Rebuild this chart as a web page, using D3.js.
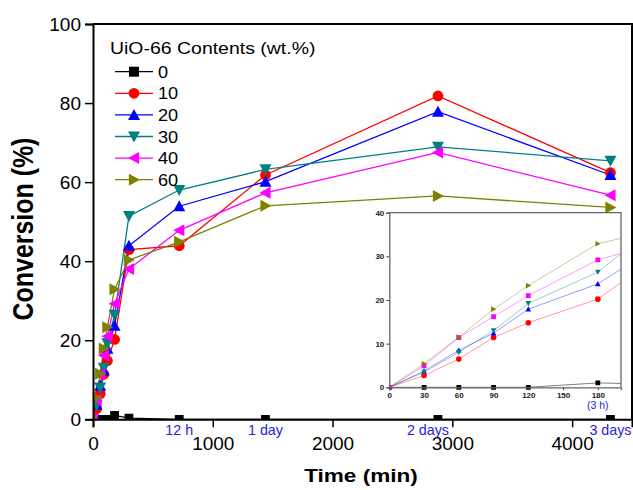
<!DOCTYPE html>
<html>
<head>
<meta charset="utf-8">
<script src="https://cdn.jsdelivr.net/npm/d3@7"></script>
<style>
  body { margin: 0; background: #fff; }
  text { font-family: Arial, "Liberation Sans", Helvetica, sans-serif; }
</style>
</head>
<body>
<svg id="chart" width="633" height="490"></svg>
<script>
// Reaction time (min) and conversion (%) for each UiO-66 loading
const times   = [0, 30, 60, 90, 120, 180, 300, 720, 1440, 2880, 4320];
const contents = ["0", "10", "20", "30", "40", "60"];
const conv0   = [0, 0, 0, 0, 0, 1.0, 0.3, 0, 0, 0, 0];
const conv10  = [0, 2.7, 6.5, 11.4, 14.8, 20.2, 42.9, 43.9, 61.8, 81.8, 62.4];
const conv20  = [0, 3.7, 8.5, 12.4, 17.9, 23.7, 43.9, 53.9, 60.1, 77.8, 61.8];
const conv30  = [0, 3.5, 8.0, 13.0, 19.2, 26.4, 51.4, 58.0, 63.2, 68.9, 65.4];
const conv40  = [0, 4.9, 11.4, 16.2, 21.0, 29.2, 38.0, 47.8, 57.3, 67.5, 56.7];
const conv60  = [0, 5.4, 11.5, 17.9, 23.3, 32.9, 40.3, 44.9, 54.0, 56.5, 53.6];

const xTicks = [0, 1000, 2000, 3000, 4000];
const yTicks = [0, 20, 40, 60, 80, 100];
const markTimes  = [720, 1440, 2880, 4320];
const markLabels = ["12 h", "1 day", "2 days", "3 days"];
const insetXTicks = [0, 30, 60, 90, 120, 150, 180];
const insetYTicks = [0, 10, 20, 30, 40];

const seriesValues = [conv0, conv10, conv20, conv30, conv40, conv60];
const colors = ["#000000", "#ff0000", "#0000ff", "#008080", "#ff00ff", "#808000"];
const shapes = ["square", "circle", "up", "down", "left", "right"];
const insetShapes = ["square", "circle", "up", "down", "square", "right"];

const series = contents.map((c, i) => ({
  name: c,
  color: colors[i],
  shape: shapes[i],
  insetShape: insetShapes[i],
  points: times.map((t, j) => ({ t, v: seriesValues[i][j] }))
}));

function markerPath(shape, r) {
  switch (shape) {
    case "square": return `M${-r},${-r}H${r}V${r}H${-r}Z`;
    case "circle": return `M${r},0A${r},${r} 0 1,1 ${-r},0A${r},${r} 0 1,1 ${r},0Z`;
    case "up":    return `M0,${-r}L${r},${r * 0.85}L${-r},${r * 0.85}Z`;
    case "down":  return `M0,${r}L${r},${-r * 0.85}L${-r},${-r * 0.85}Z`;
    case "left":  return `M${-r},0L${r * 0.85},${-r}L${r * 0.85},${r}Z`;
    case "right": return `M${r},0L${-r * 0.85},${-r}L${-r * 0.85},${r}Z`;
  }
}
function markerRadius(shape) {
  return shape === "square" ? 4.4 : (shape === "circle" ? 5.4 : 6);
}

const svg = d3.select("#chart");

// ---- main plot ----
const M = { left: 93, top: 24, right: 632, bottom: 419.3 };
const x = d3.scaleLinear().domain([0, 4500]).range([M.left, M.right]);
const y = d3.scaleLinear().domain([0, 100]).range([M.bottom, M.top]);

svg.append("clipPath").attr("id", "mainClip")
  .append("rect").attr("x", M.left).attr("y", M.top)
  .attr("width", M.right - M.left).attr("height", M.bottom - M.top);

const plot = svg.append("g").attr("clip-path", "url(#mainClip)");
const line = d3.line().x(d => x(d.t)).y(d => y(d.v));

series.forEach(s => {
  plot.append("path").datum(s.points)
    .attr("d", line).attr("fill", "none")
    .attr("stroke", s.color).attr("stroke-width", 1.3);
});
series.forEach(s => {
  plot.selectAll(null).data(s.points).enter().append("path")
    .attr("transform", d => `translate(${x(d.t)},${y(d.v)})`)
    .attr("d", markerPath(s.shape, markerRadius(s.shape)))
    .attr("fill", s.color);
});

// frame top / right
svg.append("path")
  .attr("d", `M${M.left},${M.top}H${M.right}V${M.bottom}`)
  .attr("fill", "none").attr("stroke", "#000").attr("stroke-width", 2);

// axes
const xAxis = svg.append("g").attr("transform", `translate(0,${M.bottom})`)
  .call(d3.axisBottom(x).tickValues(xTicks).tickSize(8).tickPadding(5).tickFormat(d3.format("d")));
const yAxis = svg.append("g").attr("transform", `translate(${M.left},0)`)
  .call(d3.axisLeft(y).tickValues(yTicks).tickSize(8).tickPadding(4));
[xAxis, yAxis].forEach(a => {
  a.select(".domain").attr("stroke-width", 2);
  a.selectAll(".tick line").attr("stroke-width", 1.5);
  a.selectAll(".tick text").attr("font-size", 19).attr("fill", "#000");
});
xAxis.selectAll(".tick text").attr("dy", "0.95em");
yAxis.selectAll(".tick text").attr("dy", "0.35em");

// time annotations
const markOffsets = [0, 0, -10, 0];
svg.selectAll(".mark").data(markTimes).enter().append("text")
  .attr("x", (d, i) => x(d) + markOffsets[i])
  .attr("y", 435)
  .attr("text-anchor", "middle")
  .attr("font-size", 14.3)
  .attr("fill", "#1f1fd6")
  .text((d, i) => markLabels[i]);

// axis titles
svg.append("text")
  .attr("transform", "translate(33,229) rotate(-90) scale(0.86,1)")
  .attr("text-anchor", "middle")
  .attr("font-size", 29).attr("font-weight", "bold")
  .text("Conversion (%)");
svg.append("text")
  .attr("transform", "translate(361,482) scale(1.22,1)")
  .attr("text-anchor", "middle")
  .attr("font-size", 18.5).attr("font-weight", "bold")
  .text("Time (min)");

// legend
const legend = svg.append("g");
legend.append("text")
  .attr("transform", "translate(110,54) scale(1.18,1)")
  .attr("font-size", 16.5)
  .text("UiO-66 Contents (wt.%)");
const rowY = d3.scaleLinear().domain([0, 1]).range([71.7, 93.3]);
series.forEach((s, i) => {
  const yy = rowY(i);
  legend.append("line").attr("x1", 115).attr("x2", 153).attr("y1", yy).attr("y2", yy)
    .attr("stroke", s.color).attr("stroke-width", 1.3);
  legend.append("path").attr("transform", `translate(134,${yy})`)
    .attr("d", markerPath(s.shape, s.shape === "square" ? 5 : markerRadius(s.shape)))
    .attr("fill", s.color);
  legend.append("text")
    .attr("transform", `translate(158,${yy + 6}) scale(1.1,1)`)
    .attr("font-size", 16.5)
    .text(s.name);
});

// ---- inset: first 200 min ----
const I = { left: 389.3, top: 212.7, right: 621, bottom: 387.3 };
const xi = d3.scaleLinear().domain([0, 200]).range([I.left, I.right]);
const yi = d3.scaleLinear().domain([0, 40]).range([I.bottom, I.top]);

svg.append("rect").attr("x", I.left).attr("y", I.top)
  .attr("width", I.right - I.left).attr("height", I.bottom - I.top)
  .attr("fill", "#fff");
svg.append("clipPath").attr("id", "insetClip")
  .append("rect").attr("x", I.left).attr("y", I.top - 4)
  .attr("width", I.right - I.left).attr("height", I.bottom - I.top + 8);

const inset = svg.append("g").attr("clip-path", "url(#insetClip)");
const lineI = d3.line().x(d => xi(d.t)).y(d => yi(d.v));
series.forEach(s => {
  inset.append("path").datum(s.points.filter(d => d.t <= 300))
    .attr("d", lineI).attr("fill", "none")
    .attr("stroke", s.color).attr("stroke-opacity", s.name === "0" ? 0.5 : 0.4)
    .attr("stroke-width", 1);
});
series.forEach(s => {
  inset.selectAll(null).data(s.points.filter(d => d.t <= 180)).enter().append("path")
    .attr("transform", d => `translate(${xi(d.t)},${yi(d.v)})`)
    .attr("d", markerPath(s.insetShape, s.insetShape === "square" ? 2.4 : 2.8))
    .attr("fill", s.color);
});

svg.append("path")
  .attr("d", `M${I.left},${I.top}H${I.right}V${I.bottom}`)
  .attr("fill", "none").attr("stroke", "#666").attr("stroke-width", 1.3);

const xiAxis = svg.append("g").attr("transform", `translate(0,${I.bottom})`)
  .call(d3.axisBottom(xi).tickValues(insetXTicks).tickSize(3).tickPadding(2));
const yiAxis = svg.append("g").attr("transform", `translate(${I.left},0)`)
  .call(d3.axisLeft(yi).tickValues(insetYTicks).tickSize(3).tickPadding(2));
[xiAxis, yiAxis].forEach(a => {
  a.select(".domain").attr("stroke", "#666").attr("stroke-width", 1.3);
  a.selectAll(".tick line").attr("stroke", "#444");
  a.selectAll(".tick text").attr("font-size", 8).attr("font-weight", "bold").attr("fill", "#222");
});
svg.append("text")
  .attr("x", xi(180)).attr("y", 409)
  .attr("text-anchor", "middle")
  .attr("font-size", 10.5).attr("fill", "#1f1fd6")
  .text("(3 h)");
</script>
</body>
</html>
